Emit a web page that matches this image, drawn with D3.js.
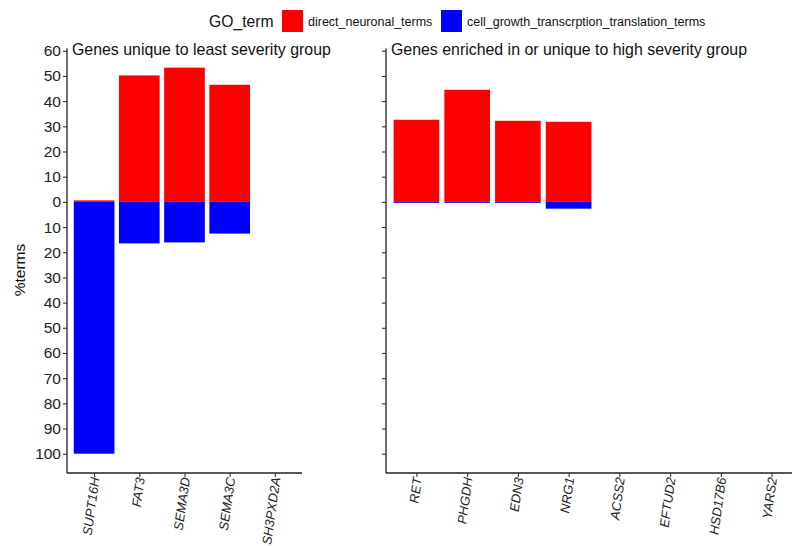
<!DOCTYPE html>
<html><head><meta charset="utf-8">
<script src="https://cdn.jsdelivr.net/npm/d3@7"></script>
<style>body{margin:0;background:#fff}svg{display:block;font-family:"Liberation Sans",Arial,sans-serif}</style>
</head><body>
<svg id="c" width="792" height="546"></svg>
<script>
// Data
const leftGenes = ["SUPT16H","FAT3","SEMA3D","SEMA3C","SH3PXD2A"];
const leftNeuronal = [0.6, 50.2, 53.3, 46.5, 0];
const leftGrowth = [100, 16.5, 16.1, 12.6, 0];
const rightGenes = ["RET","PHGDH","EDN3","NRG1","ACSS2","EFTUD2","HSD17B6","YARS2"];
const rightNeuronal = [32.6, 44.5, 32.2, 31.8, 0, 0, 0, 0];
const rightGrowth = [0.4, 0.4, 0.4, 2.7, 0, 0, 0, 0];
const yTicks = [60,50,40,30,20,10,0,-10,-20,-30,-40,-50,-60,-70,-80,-90,-100];
const seriesNames = ["direct_neuronal_terms","cell_growth_transcrption_translation_terms"];
const seriesColors = ["#FF0000","#0000FF"];
const legendTitle = "GO_term";
const yLabel = "%terms";
const panelTitles = ["Genes unique to least severity group","Genes enriched in or unique to high severity group"];

const svg = d3.select("#c");
const y = d3.scaleLinear().domain([-107.66, 60.86]).range([473, 48.6]);

function panel(genes, neu, gro, x0, x1, title, showLabels) {
  const x = d3.scalePoint().domain(genes).range([x0, x1]).padding(0.6);
  const bw = x.step() * 0.9;
  const g = svg.append("g");
  g.selectAll("rect.neu").data(genes).join("rect").attr("class", "neu")
    .attr("x", d => x(d) - bw/2).attr("width", bw)
    .attr("y", (d,i) => y(neu[i])).attr("height", (d,i) => y(0) - y(neu[i]))
    .attr("fill", seriesColors[0]);
  g.selectAll("rect.gro").data(genes).join("rect").attr("class", "gro")
    .attr("x", d => x(d) - bw/2).attr("width", bw)
    .attr("y", y(0)).attr("height", (d,i) => y(-gro[i]) - y(0))
    .attr("fill", seriesColors[1]);
  const ya = d3.axisLeft(y).tickValues(yTicks).tickSize(4).tickPadding(2)
    .tickFormat(d => showLabels ? Math.abs(d) : "");
  const yg = g.append("g").attr("transform", `translate(${x0},0)`).call(ya);
  yg.select(".domain").attr("stroke", "#222").attr("stroke-width", 1.3).attr("d", `M0,${y.range()[1]}V${y.range()[0]}`);
  yg.selectAll(".tick line").attr("stroke", "#333").attr("stroke-width", 1.1);
  yg.selectAll(".tick text").attr("font-size", 15.5).attr("fill", "#222")
    .attr("font-family", '"Liberation Sans",Arial,sans-serif');
  const xa = d3.axisBottom(x).tickSize(4).tickPadding(0);
  const xg = g.append("g").attr("transform", `translate(0,473)`).call(xa);
  xg.select(".domain").attr("stroke", "#222").attr("stroke-width", 1.3).attr("d", `M${x0},0H${x1}`);
  xg.selectAll(".tick line").attr("stroke", "#333").attr("stroke-width", 1.1);
  xg.selectAll(".tick text")
    .attr("font-size", 13).attr("font-style", "italic").attr("fill", "#222")
    .attr("font-family", '"Liberation Sans",Arial,sans-serif')
    .attr("text-anchor", "end").attr("dy", null).attr("y", 0)
    .attr("transform", "translate(5,5) rotate(-82)");
  g.append("text").attr("x", x0 + 5).attr("y", 55).attr("font-size", 15.9).attr("fill", "#111").text(title);
}

panel(leftGenes, leftNeuronal, leftGrowth, 67, 302, panelTitles[0], true);
panel(rightGenes, rightNeuronal, rightGrowth, 386, 802, panelTitles[1], false);

svg.append("text").attr("transform", "translate(25,270) rotate(-90)")
  .attr("text-anchor", "middle").attr("font-size", 15.5).attr("fill", "#111").text(yLabel);

const lg = svg.append("g");
lg.append("text").attr("x", 209).attr("y", 27).attr("font-size", 15.7).attr("fill", "#111").text(legendTitle);
const legX = [282, 441];
seriesNames.forEach((s, i) => {
  lg.append("rect").attr("x", legX[i]).attr("y", 10).attr("width", 21).attr("height", 22).attr("fill", seriesColors[i]);
  lg.append("text").attr("x", legX[i] + 26).attr("y", 26).attr("font-size", 12.5).attr("fill", "#111").text(s);
});
</script>
</body></html>
